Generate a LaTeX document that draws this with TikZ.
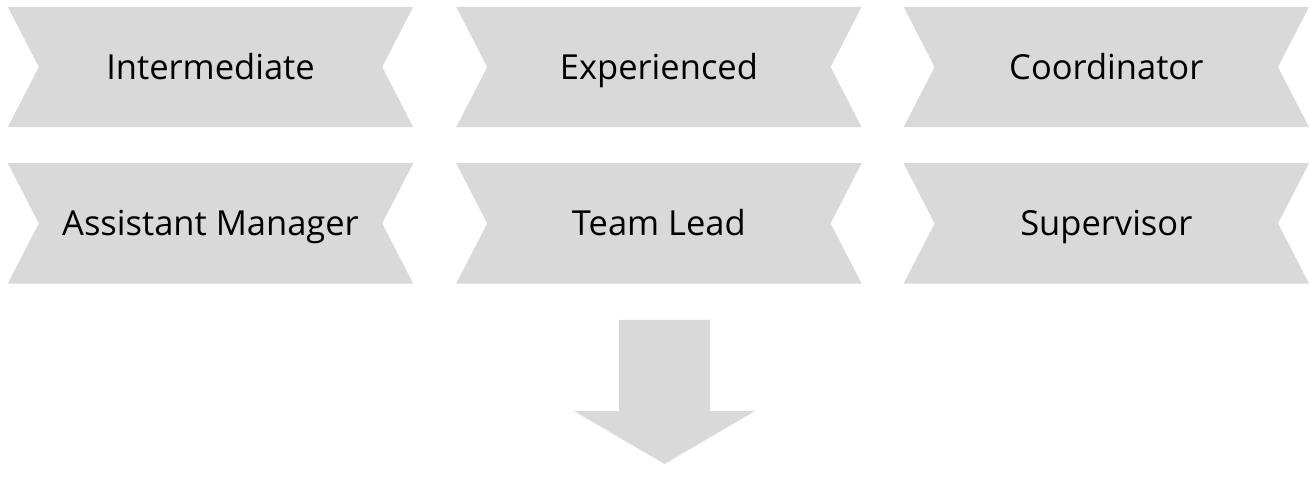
\documentclass[tikz,border=0pt]{standalone}
\usepackage{fontspec}
\setmainfont{Open Sans}
\usetikzlibrary{positioning}

\definecolor{ribbongray}{HTML}{D9D9D9}
\tikzset{
  stage/.style={minimum width=405pt, minimum height=120pt, inner sep=0pt,
    text height=25pt, text depth=0pt, font=\fontsize{34.5}{41}\selectfont},
}

\begin{document}
\begin{tikzpicture}[x=1pt, y=-1pt]
  \useasboundingbox (0,0) rectangle (1311,502);
  % top row
  \node[stage] (inter) at (210.5,67) {};
  \node[stage, right=43pt of inter] (exper) {};
  \node[stage, right=42pt of exper] (coord) {};
  % bottom row
  \node[stage, below=36pt of inter] (asst) {};
  \node[stage, below=36pt of exper] (lead) {};
  \node[stage, below=36pt of coord] (super) {};
  % the notched ribbons behind the labels
  \foreach \n in {inter,exper,coord,asst,lead,super}
    \fill[ribbongray] (\n.north west) -- (\n.north east) -- ([xshift=-31pt]\n.east)
      -- (\n.south east) -- (\n.south west) -- ([xshift=31pt]\n.west) -- cycle;
  \node[stage] at (inter) {Intermediate};
  \node[stage] at (exper) {Experienced};
  \node[stage] at (coord) {Coordinator};
  \node[stage] at (asst) {Assistant Manager};
  \node[stage] at (lead) {Team Lead};
  \node[stage] at (super) {Supervisor};
  % down arrow
  \coordinate (tip) at (664.5,464);
  \fill[ribbongray] (tip) -- ++(90.5,-53) -- ++(-45,0) -- ++(0,-91) -- ++(-91,0)
    -- ++(0,91) -- ++(-45,0) -- cycle;
\end{tikzpicture}
\end{document}
